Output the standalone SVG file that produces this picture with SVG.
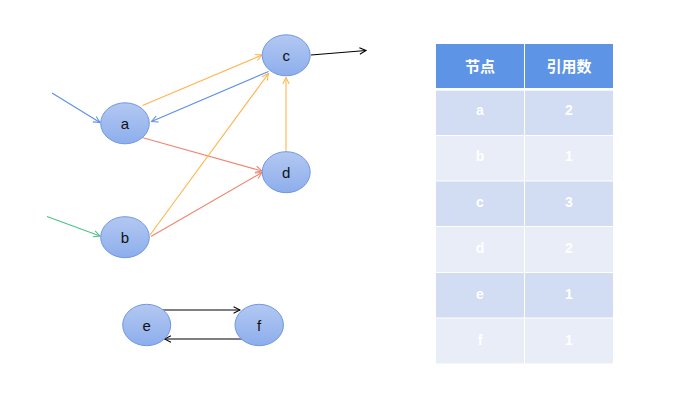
<svg xmlns="http://www.w3.org/2000/svg" width="695" height="413" viewBox="0 0 695 413">
<style>
.node ellipse{fill:url(#g);stroke:#6f98e0;stroke-width:1}
.node text{font-family:"Liberation Sans",Arial,sans-serif;font-size:15px;fill:#111;text-anchor:middle;dominant-baseline:central}
.e{fill:none;stroke-width:1.1}
.hd{fill:#5d94e5}
.r1{fill:#d2dcf3}
.r2{fill:#e8edf8}
.tt{font-family:"Liberation Sans","Noto Sans CJK SC",sans-serif;font-weight:bold;fill:#fff;text-anchor:middle;dominant-baseline:central}
</style>
<defs>
<linearGradient id="g" x1="0" y1="0" x2="0" y2="1">
<stop offset="0" stop-color="#b3c8f2"/>
<stop offset="1" stop-color="#8daeec"/>
</linearGradient>
<marker id="mb" viewBox="0 0 10 10" refX="9" refY="5" markerWidth="8" markerHeight="8" markerUnits="userSpaceOnUse" orient="auto"><path d="M1,1 L9,5 L1,9" fill="none" stroke="#5b8fe8" stroke-width="1.3"/></marker>
<marker id="mg" viewBox="0 0 10 10" refX="9" refY="5" markerWidth="8" markerHeight="8" markerUnits="userSpaceOnUse" orient="auto"><path d="M1,1 L9,5 L1,9" fill="none" stroke="#4cc386" stroke-width="1.3"/></marker>
<marker id="mo" viewBox="0 0 10 10" refX="9" refY="5" markerWidth="8" markerHeight="8" markerUnits="userSpaceOnUse" orient="auto"><path d="M1,1 L9,5 L1,9" fill="none" stroke="#ffb44f" stroke-width="1.3"/></marker>
<marker id="mr" viewBox="0 0 10 10" refX="9" refY="5" markerWidth="8" markerHeight="8" markerUnits="userSpaceOnUse" orient="auto"><path d="M1,1 L9,5 L1,9" fill="none" stroke="#f0846e" stroke-width="1.3"/></marker>
<marker id="mk" viewBox="0 0 10 10" refX="9" refY="5" markerWidth="8" markerHeight="8" markerUnits="userSpaceOnUse" orient="auto"><path d="M1,1 L9,5 L1,9" fill="none" stroke="#000" stroke-width="1.3"/></marker>
</defs>
<rect width="695" height="413" fill="#fff"/>
<g id="connectors">
<line class="e" x1="52" y1="93" x2="100" y2="122.5" stroke="#5b8fe8" marker-end="url(#mb)"/>
<line class="e" x1="47" y1="216.5" x2="100" y2="236" stroke="#4cc386" marker-end="url(#mg)"/>
<line class="e" x1="142.5" y1="105.5" x2="262" y2="55" stroke="#ffb44f" marker-end="url(#mo)"/>
<line class="e" x1="268.5" y1="71.5" x2="151.5" y2="121.5" stroke="#5b8fe8" marker-end="url(#mb)"/>
<line class="e" x1="142" y1="137.5" x2="262" y2="171" stroke="#f0846e" marker-end="url(#mr)"/>
<line class="e" x1="150" y1="235" x2="268.5" y2="73.5" stroke="#ffb44f" marker-end="url(#mo)"/>
<line class="e" x1="151" y1="236.5" x2="262" y2="172.5" stroke="#f0846e" marker-end="url(#mr)"/>
<line class="e" x1="286" y1="151.5" x2="286" y2="77.5" stroke="#ffb44f" marker-end="url(#mo)"/>
<line class="e" x1="311" y1="55" x2="366" y2="50.5" stroke="#000" marker-end="url(#mk)"/>
<line class="e" x1="163" y1="310" x2="240" y2="310" stroke="#000" marker-end="url(#mk)"/>
<line class="e" x1="243" y1="339" x2="164.5" y2="339" stroke="#000" marker-end="url(#mk)"/>
</g>
<g id="node-a" class="node"><ellipse cx="125" cy="123.3" rx="24.3" ry="20.5"/><text x="125" y="123.3">a</text></g>
<g id="node-b" class="node"><ellipse cx="125" cy="237.2" rx="24.3" ry="20.5"/><text x="125" y="237.2">b</text></g>
<g id="node-c" class="node"><ellipse cx="286.2" cy="55.3" rx="24" ry="20.5"/><text x="286.2" y="55.3">c</text></g>
<g id="node-d" class="node"><ellipse cx="286.2" cy="172.2" rx="24" ry="20.5"/><text x="286.2" y="172.2">d</text></g>
<g id="node-e" class="node"><ellipse cx="146.7" cy="325" rx="24" ry="20.7"/><text x="146.7" y="325">e</text></g>
<g id="node-f" class="node"><ellipse cx="259.2" cy="325" rx="24.2" ry="20.7"/><text x="259.2" y="325">f</text></g>
<g id="table">
<rect class="hd" x="436" y="44" width="88" height="44"/>
<rect class="hd" x="525" y="44" width="88" height="44"/>
<text class="tt" x="480" y="66" font-size="15">节点</text>
<text class="tt" x="569" y="66" font-size="15">引用数</text>
<rect class="r1" x="436" y="90.7" width="88" height="44.3"/><rect class="r1" x="525" y="90.7" width="88" height="44.3"/>
<rect class="r2" x="436" y="136" width="88" height="44.5"/><rect class="r2" x="525" y="136" width="88" height="44.5"/>
<rect class="r1" x="436" y="181.5" width="88" height="44.5"/><rect class="r1" x="525" y="181.5" width="88" height="44.5"/>
<rect class="r2" x="436" y="227" width="88" height="45"/><rect class="r2" x="525" y="227" width="88" height="45"/>
<rect class="r1" x="436" y="273" width="88" height="44.5"/><rect class="r1" x="525" y="273" width="88" height="44.5"/>
<rect class="r2" x="436" y="318.5" width="88" height="45"/><rect class="r2" x="525" y="318.5" width="88" height="45"/>
<g font-size="14">
<text class="tt" x="480" y="110">a</text><text class="tt" x="569" y="110">2</text>
<text class="tt" x="480" y="156">b</text><text class="tt" x="569" y="156">1</text>
<text class="tt" x="480" y="202">c</text><text class="tt" x="569" y="202">3</text>
<text class="tt" x="480" y="248">d</text><text class="tt" x="569" y="248">2</text>
<text class="tt" x="480" y="294">e</text><text class="tt" x="569" y="294">1</text>
<text class="tt" x="480" y="340">f</text><text class="tt" x="569" y="340">1</text>
</g>
</g>
</svg>
